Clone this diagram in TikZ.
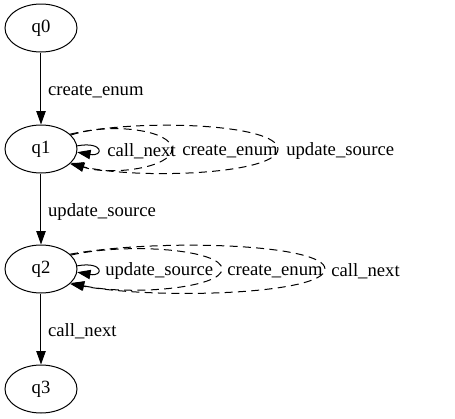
\documentclass[tikz,border=0pt]{standalone}
\usepackage{fontspec}
\setmainfont{Liberation Serif}
\usetikzlibrary{shapes.geometric,arrows.meta}
\begin{document}
\begin{tikzpicture}[x=0.75pt,y=-0.75pt,
  state/.style={draw,ellipse,line width=0.75pt,minimum width=54pt,minimum height=36pt,inner sep=0pt,font=\fontsize{14pt}{16pt}\selectfont},
  edge/.style={line width=0.75pt,-{Triangle[length=10pt,width=7pt]}},
  dedge/.style={edge,dash pattern=on 6pt off 4pt},
  lbl/.style={inner sep=0pt,anchor=west,font=\fontsize{14pt}{16pt}\selectfont}]
\useasboundingbox (0,0) rectangle (455,419);
\node[state] (q0) at (41,28) {q0};
\node[state] (q1) at (41,149) {q1};
\node[state] (q2) at (41,269) {q2};
\node[state] (q3) at (41,389) {q3};
\draw[edge] (q0) -- node[lbl,xshift=5,yshift=-2pt] {create\_enum} (q1);
\draw[edge] (q1) -- node[lbl,xshift=5,yshift=-2pt] {update\_source} (q2);
\draw[edge] (q2) -- node[lbl,xshift=5,yshift=-2pt] {call\_next} (q3);
% q1 loops
\draw[edge] (q1.5) .. controls (104,141) and (104,157) .. (q1.-5);
\draw[dedge] (q1.25) .. controls (110,122) and (172,130) .. (172,149) .. controls (172,168) and (110,176) .. (q1.-25);
\draw[dedge] (q1.27) .. controls (140,118) and (278,124) .. (278,149) .. controls (278,174) and (140,180) .. (q1.-27);
\node[lbl] (l1a) at (107,151) {call\_next};
\node[lbl] (l1b) at (182,151) {create\_enum};
\node[lbl] (l1c) at (286,151) {update\_source};
% q2 loops
\draw[edge] (q2.5) .. controls (104,261) and (104,277) .. (q2.-5);
\draw[dedge] (q2.25) .. controls (130,242) and (222,250) .. (222,269) .. controls (222,288) and (130,296) .. (q2.-25);
\draw[dedge] (q2.27) .. controls (160,238) and (325,244) .. (325,269) .. controls (325,294) and (160,300) .. (q2.-27);
\node[lbl] (l2a) at (105,271) {update\_source};
\node[lbl] (l2b) at (227,271) {create\_enum};
\node[lbl] (l2c) at (331,271) {call\_next};
\end{tikzpicture}
\end{document}
